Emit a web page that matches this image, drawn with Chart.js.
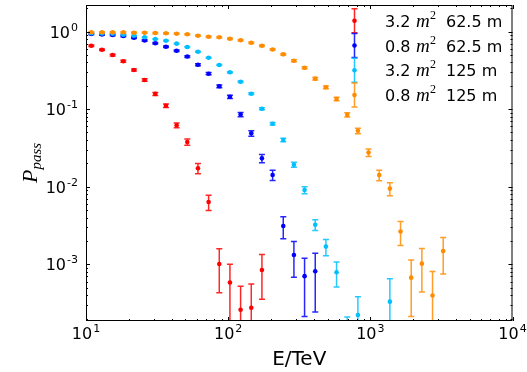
<!DOCTYPE html>
<html>
<head>
<meta charset="utf-8">
<script src="https://cdn.jsdelivr.net/npm/chart.js@4/dist/chart.umd.min.js"></script>
<style>
  html, body { margin: 0; padding: 0; background: #fff; }
  #wrap { width: 527px; height: 372px; }
</style>
</head>
<body>
<div id="wrap"><canvas id="chartPass" width="527" height="372"></canvas></div>
<script>
// energy bin centres (TeV), shared by all four series
const energy = [10.9, 12.96, 15.4, 18.3, 21.75, 25.85, 30.72, 36.52, 43.4, 51.58,
    61.31, 72.86, 86.6, 102.9, 122.3, 145.4, 172.8, 205.4, 244.1, 290.1,
    344.7, 409.7, 487.0, 578.8, 687.9, 817.6, 971.6, 1154.8, 1372.4, 1631.1,
    1938.5, 2304.0, 2738.4, 3254.5];

// 3.2 m2, 62.5 m
const redVals = [0.656, 0.583, 0.498, 0.413, 0.319, 0.237, 0.157, 0.1106, 0.0618, 0.0377,
    0.0173, 0.00635, 0.00101, 0.000582, 0.00026, 0.000276, 0.000845];
const redErr = [0.0148, 0.0139, 0.0129, 0.0117, 0.0103, 0.0089, 0.0072, 0.0061, 0.0045, 0.0035,
    0.0026, 0.00143, 0.00058, 0.00042, 0.00026, 0.00028, 0.00049];

// 0.8 m2, 62.5 m
const blueVals = [0.929, 0.915, 0.901, 0.875, 0.832, 0.766, 0.707, 0.637, 0.566, 0.476,
    0.373, 0.286, 0.197, 0.144, 0.0852, 0.0488, 0.0232, 0.01415, 0.00312, 0.00132,
    0.000703, 0.000813];
const blueErr = [0.0176, 0.0175, 0.0173, 0.0171, 0.0167, 0.016, 0.0154, 0.0146, 0.0137, 0.0126,
    0.0112, 0.0098, 0.0081, 0.0069, 0.0053, 0.004, 0.0028, 0.0021, 0.00099, 0.00064,
    0.00049, 0.00057];

// 3.2 m2, 125 m
const cyanVals = [0.948, 0.942, 0.937, 0.909, 0.883, 0.842, 0.8, 0.761, 0.697, 0.631,
    0.549, 0.459, 0.37, 0.298, 0.225, 0.158, 0.1012, 0.0647, 0.04, 0.0192,
    0.00906, 0.00324, 0.00169, 0.000789, 0.00011, 0.000222, null, null, 0.00033];
const cyanErr = [0.0097, 0.0097, 0.0097, 0.0095, 0.0094, 0.0092, 0.0089, 0.0087, 0.0083, 0.0079,
    0.0074, 0.0068, 0.0061, 0.0055, 0.0047, 0.004, 0.0032, 0.0025, 0.002, 0.0014,
    0.00095, 0.00052, 0.0004, 0.00028, 0.0001, 0.00016, null, null, 0.00032];

// 0.8 m2, 125 m
const orangeVals = [0.977, 0.977, 0.977, 0.977, 0.965, 0.965, 0.956, 0.948, 0.937, 0.92,
    0.883, 0.857, 0.842, 0.808, 0.77, 0.717, 0.656, 0.586, 0.508, 0.42,
    0.341, 0.247, 0.191, 0.135, 0.0842, 0.0525, 0.0275, 0.0141, 0.00945, 0.00265,
    0.000673, 0.00102, 0.000397, 0.00148];
const orangeErr = [0.018, 0.018, 0.018, 0.018, 0.0179, 0.0179, 0.0178, 0.0178, 0.0177, 0.0175,
    0.0172, 0.0169, 0.0168, 0.0164, 0.016, 0.0155, 0.0148, 0.014, 0.013, 0.0118,
    0.0107, 0.009, 0.008, 0.0067, 0.0053, 0.0042, 0.003, 0.0022, 0.0018, 0.0009,
    0.00046, 0.00058, 0.00041, 0.00073];

const legendArea = ["3.2", "0.8", "3.2", "0.8"];
const legendDist = ["62.5 m", "62.5 m", "125 m", "125 m"];
const xTickExps = [1, 2, 3, 4];
const yTickExps = [0, -1, -2, -3];

const colors = ["#ff0000", "#0000ff", "#00bfff", "#ff8c00"];
const seriesVals = [redVals, blueVals, cyanVals, orangeVals];
const seriesErr = [redErr, blueErr, cyanErr, orangeErr];

function makeData(vals, errs) {
    const pts = [];
    vals.forEach((v, i) => {
        if (v !== null) pts.push({ x: energy[i], y: v, err: errs[i] });
    });
    return pts;
}

const SANS = "'DejaVu Sans', sans-serif";
const MATH = "'Liberation Serif', serif";

// error bars, drawn just before each dataset's markers
const errorBars = {
    id: "errorBars",
    beforeDatasetDraw(chart, args) {
        const ctx = chart.ctx;
        const xs = chart.scales.x, ys = chart.scales.y;
        const area = chart.chartArea;
        const ds = chart.data.datasets[args.index];
        ctx.save();
        ctx.beginPath();
        ctx.rect(area.left, area.top, area.right - area.left, area.bottom - area.top);
        ctx.clip();
        ctx.strokeStyle = ds.backgroundColor;
        ctx.globalAlpha = 0.85;
        ctx.lineWidth = 1.5;
        ds.data.forEach(p => {
            const px = xs.getPixelForValue(p.x);
            const hi = ys.getPixelForValue(p.y + p.err);
            const lo = (p.y - p.err) > 0 ? ys.getPixelForValue(p.y - p.err) : area.bottom + 20;
            ctx.beginPath();
            ctx.moveTo(px, hi); ctx.lineTo(px, lo);
            ctx.moveTo(px - 3, hi); ctx.lineTo(px + 3, hi);
            ctx.moveTo(px - 3, lo); ctx.lineTo(px + 3, lo);
            ctx.stroke();
        });
        ctx.restore();
    }
};

function drawPow(ctx, exp, x, y, align) {
    ctx.font = "16px " + SANS;
    const wb = ctx.measureText("10").width;
    ctx.font = "11px " + SANS;
    const ws = ctx.measureText(String(exp)).width;
    const total = wb + ws + 1;
    let x0 = x;
    if (align === "center") x0 = x - total / 2;
    if (align === "right") x0 = x - total;
    ctx.textAlign = "left";
    ctx.textBaseline = "alphabetic";
    ctx.font = "16px " + SANS;
    ctx.fillText("10", x0, y);
    ctx.font = "11px " + SANS;
    ctx.fillText(String(exp), x0 + wb + 1, y - 7);
}

// frame, inward ticks, labels, titles and legend
const axesDecor = {
    id: "axesDecor",
    afterDraw(chart) {
        const ctx = chart.ctx;
        const xs = chart.scales.x, ys = chart.scales.y;
        const a = chart.chartArea;
        ctx.save();
        ctx.strokeStyle = "#000";
        ctx.fillStyle = "#000";
        ctx.lineWidth = 1;
        ctx.strokeRect(a.left + 0.5, a.top + 0.5, a.right - a.left - 1, a.bottom - a.top - 1);

        ctx.beginPath();
        for (let d = 1; d <= 4; d++) {
            for (let m = 1; m <= 9; m++) {
                const v = m * Math.pow(10, d);
                if (v < xs.min || v > xs.max) continue;
                const px = Math.round(xs.getPixelForValue(v)) + 0.5;
                const len = m === 1 ? 4 : 2;
                ctx.moveTo(px, a.bottom); ctx.lineTo(px, a.bottom - len);
                ctx.moveTo(px, a.top); ctx.lineTo(px, a.top + len);
            }
        }
        for (let d = -4; d <= 0; d++) {
            for (let m = 1; m <= 9; m++) {
                const v = m * Math.pow(10, d);
                if (v < ys.min || v > ys.max) continue;
                const py = Math.round(ys.getPixelForValue(v)) + 0.5;
                const len = m === 1 ? 4 : 2;
                ctx.moveTo(a.left, py); ctx.lineTo(a.left + len, py);
                ctx.moveTo(a.right, py); ctx.lineTo(a.right - len, py);
            }
        }
        ctx.stroke();

        xTickExps.forEach(e => {
            drawPow(ctx, e, xs.getPixelForValue(Math.pow(10, e)), a.bottom + 18, "center");
        });
        yTickExps.forEach(e => {
            drawPow(ctx, e, a.left - 8, ys.getPixelForValue(Math.pow(10, e)) + 6, "right");
        });

        // x title
        ctx.font = "20px " + SANS;
        ctx.textAlign = "center";
        ctx.fillText("E/TeV", (a.left + a.right) / 2, 365);

        // y title, P_pass
        ctx.save();
        ctx.translate(37, 163);
        ctx.rotate(-Math.PI / 2);
        ctx.font = "italic 22px " + MATH;
        const wP = ctx.measureText("P").width;
        ctx.font = "italic 15px " + MATH;
        const wS = ctx.measureText("pass").width;
        const x0 = -(wP + wS) / 2;
        ctx.textAlign = "left";
        ctx.font = "italic 22px " + MATH;
        ctx.fillText("P", x0, 0);
        ctx.font = "italic 15px " + MATH;
        ctx.fillText("pass", x0 + wP, 4);
        ctx.restore();

        // legend
        colors.forEach((c, i) => {
            const cy = 20.7 + 24.8 * i;
            const ix = 354.5;
            ctx.save();
            ctx.strokeStyle = c;
            ctx.fillStyle = c;
            ctx.globalAlpha = 0.85;
            ctx.lineWidth = 1.5;
            ctx.beginPath();
            ctx.moveTo(ix, cy - 12); ctx.lineTo(ix, cy + 12);
            ctx.moveTo(ix - 3, cy - 12); ctx.lineTo(ix + 3, cy - 12);
            ctx.moveTo(ix - 3, cy + 12); ctx.lineTo(ix + 3, cy + 12);
            ctx.stroke();
            ctx.globalAlpha = 1;
            ctx.beginPath();
            ctx.arc(ix, cy, 2.3, 0, Math.PI * 2);
            ctx.fill();
            ctx.restore();

            const by = cy + 6;
            ctx.textAlign = "left";
            ctx.font = "16px " + SANS;
            ctx.fillText(legendArea[i], 385, by);
            ctx.font = "italic 19px " + MATH;
            ctx.fillText("m", 416, by);
            ctx.font = "12px " + MATH;
            ctx.fillText("2", 430, by - 8);
            ctx.font = "16px " + SANS;
            ctx.fillText(legendDist[i], 446, by);
        });
        ctx.restore();
    }
};

new Chart(document.getElementById("chartPass"), {
    type: "scatter",
    data: {
        datasets: seriesVals.map((vals, i) => ({
            label: legendArea[i] + " m2 " + legendDist[i],
            data: makeData(vals, seriesErr[i]),
            backgroundColor: colors[i],
            borderColor: colors[i],
            borderWidth: 0,
            pointRadius: 2.3,
            pointHoverRadius: 2.3,
            order: 4 - i
        }))
    },
    options: {
        responsive: false,
        animation: false,
        layout: { padding: { left: 86, right: 14.5, top: 5, bottom: 51 } },
        plugins: {
            legend: { display: false },
            tooltip: { enabled: false }
        },
        scales: {
            x: { type: "logarithmic", min: 10, max: 10000, display: false },
            y: { type: "logarithmic", min: 1.859e-4, max: 2.196, display: false }
        }
    },
    plugins: [errorBars, axesDecor]
});
</script>
</body>
</html>
